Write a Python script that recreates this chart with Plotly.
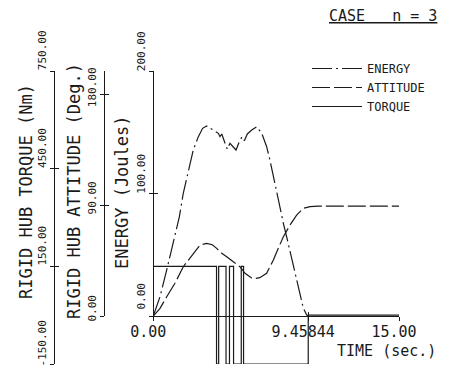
import plotly.graph_objects as go

# ---- data ----
energy_time = [0, 0.41, 0.82, 1.22, 1.59, 1.83, 2.14, 2.44, 2.75, 3.01, 3.26, 3.66, 3.97, 4.07, 4.18,
               4.38, 4.52, 4.68, 4.88, 5.05, 5.25, 5.42, 5.56, 5.74, 6.01, 6.31, 6.62, 6.92, 7.12,
               7.33, 7.53, 7.73, 7.94, 8.14, 8.35, 8.55, 8.75, 8.95, 9.16, 9.37, 9.45844]
energy = [0, 15.8, 37.6, 59.3, 81.0, 100.2, 119.2, 135.5, 146.4, 153.2, 155.1, 151.8, 149.1, 146.4, 148.6,
          141.0, 136.1, 141.0, 137.7, 135.5, 142.3, 146.4, 143.1, 148.6, 151.8, 154.5, 149.1, 138.2, 127.3,
          113.7, 100.2, 86.5, 75.7, 64.7, 52.5, 40.2, 28.0, 15.8, 6.3, 0.8, 0]

attitude_time = [0, 0.4, 0.82, 1.32, 1.83, 2.44, 2.85, 3.26, 3.6, 3.87, 4.18, 4.48, 4.88, 5.29, 5.6,
                 6.0, 6.25, 6.5, 6.92, 7.33, 7.63, 7.94, 8.35, 8.75, 9.16, 9.57, 10.08, 12.0, 15.0]
attitude = [0, 6.0, 15.7, 26.6, 40.1, 51.1, 57.8, 59.2, 58.0, 55.1, 51.0, 48.3, 44.2, 40.1, 34.8,
            31.0, 30.6, 31.2, 34.8, 45.6, 55.1, 64.6, 74.1, 82.2, 87.7, 89.0, 89.5, 89.5, 89.5]

torque_time = [0, 0, 3.86, 3.99, 4.44, 4.65, 4.90, 5.37, 5.51, 9.45844, 15.0]
torque = [0, 150, -150, 150, -150, 150, -150, 150, -150, 0, 0]

time_ticks = [0, 9.45844, 15]
time_labels = ["0.00", "9.45844", "15.00"]
energy_ticks = [0, 100, 200]
energy_labels = ["0.00", "100.00", "200.00"]
attitude_ticks = [0, 90, 180]
attitude_labels = ["0.00", "90.00", "180.00"]
torque_ticks = [-150, 150, 450, 750]
torque_labels = ["-150.00", "150.00", "450.00", "750.00"]

W, H = 457, 375
MONO = "DejaVu Sans Mono"
INK = "#1a1a1a"


def px(x):
    return x / W


def py(y):
    return 1 - y / H


fig = go.Figure()
fig.add_trace(go.Scatter(x=energy_time, y=energy, mode="lines", name="ENERGY",
                         xaxis="x", yaxis="y",
                         line=dict(color=INK, width=1.2, dash="20px,4px,2px,4px")))
fig.add_trace(go.Scatter(x=attitude_time, y=attitude, mode="lines", name="ATTITUDE",
                         xaxis="x", yaxis="y2",
                         line=dict(color=INK, width=1.2, dash="18px,4px")))
fig.add_trace(go.Scatter(x=torque_time, y=torque, mode="lines", name="TORQUE",
                         xaxis="x", yaxis="y3", line_shape="hv",
                         line=dict(color=INK, width=1.2)))

dom_ea = [py(316), py(71)]
dom_t = [py(364), py(71)]
xdom = [px(153.3), px(399)]

common = dict(showgrid=False, zeroline=False, showline=True, linecolor=INK, linewidth=1.2,
              ticks="outside", ticklen=4, tickwidth=1.2, tickcolor=INK, fixedrange=True,
              automargin=False)
twin = dict(showgrid=False, zeroline=False, showline=False, ticks="inside", ticklen=4,
            tickwidth=1.2, tickcolor=INK, showticklabels=False, fixedrange=True,
            automargin=False)

fig.update_layout(
    template="none",
    width=W, height=H, autosize=False,
    margin=dict(l=0, r=0, t=0, b=0, pad=0),
    paper_bgcolor="white", plot_bgcolor="rgba(0,0,0,0)",
    font=dict(family=MONO, color=INK),
    xaxis=dict(domain=xdom, range=[0, 15], anchor="y", tickmode="array",
               tickvals=time_ticks, ticktext=time_labels, ticklabelstandoff=-2,
               tickfont=dict(size=15, family=MONO, color=INK), ticklabelshift=-5, **common),
    xaxis2=dict(domain=xdom, range=[0, 15], anchor="y", overlaying="x", tickmode="array",
                tickvals=time_ticks, **twin),
    yaxis=dict(domain=dom_ea, range=[0, 200], anchor="free", position=px(153.3),
               tickmode="array", tickvals=energy_ticks, ticktext=energy_labels, tickangle=-90,
               tickfont=dict(size=11, family=MONO, color=INK), ticklabelshift=-18, **common),
    yaxis2=dict(domain=dom_ea, range=[0, 199.5], anchor="free", position=px(104),
                tickmode="array", tickvals=attitude_ticks, ticktext=attitude_labels, tickangle=-90,
                tickfont=dict(size=11, family=MONO, color=INK), ticklabelshift=-6, **common),
    yaxis3=dict(domain=dom_t, range=[-150, 750], anchor="free", position=px(54),
                tickmode="array", tickvals=torque_ticks, ticktext=torque_labels, tickangle=-90,
                tickfont=dict(size=11, family=MONO, color=INK), ticklabelshift=-19, **common),
    yaxis4=dict(range=[0, 200], anchor="free", position=px(153.3), overlaying="y",
                tickmode="array", tickvals=energy_ticks, **twin),
    yaxis5=dict(range=[0, 199.5], anchor="free", position=px(104), overlaying="y2",
                tickmode="array", tickvals=attitude_ticks, **twin),
    yaxis6=dict(range=[-150, 750], anchor="free", position=px(54), overlaying="y3",
                tickmode="array", tickvals=torque_ticks, **twin),
    showlegend=True,
    legend=dict(x=px(307), y=py(54), xanchor="left", yanchor="top", bgcolor="rgba(0,0,0,0)",
                font=dict(size=12, family=MONO, color=INK), itemwidth=50, tracegroupgap=0,
                traceorder="normal"),
)

# hidden traces so the twin axes render
for xa, ya in [("x2", "y4"), ("x2", "y5"), ("x2", "y6")]:
    fig.add_trace(go.Scatter(x=[None], y=[None], xaxis=xa, yaxis=ya, showlegend=False,
                             hoverinfo="skip"))

ann = [
    dict(text="RIGID HUB TORQUE (Nm)", x=px(26), y=py(192), textangle=-90, size=17),
    dict(text="RIGID HUB ATTITUDE (Deg.)", x=px(74), y=py(191), textangle=-90, size=17),
    dict(text="ENERGY (Joules)", x=px(122), y=py(192), textangle=-90, size=17),
    dict(text="TIME (sec.)", x=px(386), y=py(351), textangle=0, size=15),
    dict(text="<u>CASE   n = 3</u>", x=px(383), y=py(16), textangle=0, size=15),
]
for a in ann:
    fig.add_annotation(text=a["text"], x=a["x"], y=a["y"], xref="paper", yref="paper",
                       showarrow=False, textangle=a["textangle"], xanchor="center",
                       yanchor="middle", font=dict(family=MONO, size=a["size"], color=INK))

fig.write_html("out.html")
